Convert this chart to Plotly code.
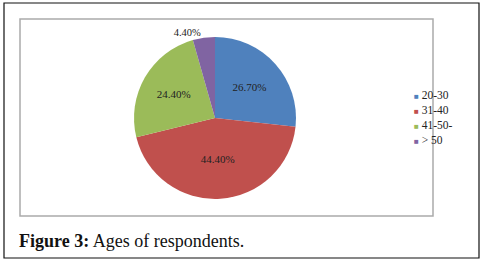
import plotly.graph_objects as go

categories = ["20-30", "31-40", "41-50-", "> 50"]
values = [26.7, 44.4, 24.4, 4.4]
labels_text = ["26.70%", "44.40%", "24.40%", "4.40%"]
colors = ["#4F81BD", "#C0504D", "#9BBB59", "#8064A2"]

W, H = 483, 262

def px(x):
    return x / W

def py(y):
    return 1 - y / H

fig = go.Figure()
fig.add_trace(go.Pie(
    labels=categories,
    values=values,
    text=labels_text,
    textinfo="text",
    textposition=["inside", "inside", "inside", "outside"],
    insidetextorientation="horizontal",
    sort=False,
    direction="clockwise",
    rotation=0,
    marker=dict(colors=colors, line=dict(width=0)),
    textfont=dict(family="Liberation Serif", size=11, color="#222"),
    outsidetextfont=dict(family="Liberation Serif", size=10.5, color="#222"),
    domain=dict(x=[px(134), px(296)], y=[py(199), py(37)]),
    hoverinfo="label+value",
    showlegend=False,
))

# legend: colored square glyph + category name, one line per category
legend_lines = [
    f'<span style="color:{col};font-size:8px">■</span> {cat}'
    for cat, col in zip(categories, colors)
]
fig.add_trace(go.Scatter(
    x=[None], y=[None], mode="markers",
    marker=dict(size=2, color="rgba(0,0,0,0)"),
    name="<br>".join(legend_lines),
    showlegend=True, hoverinfo="skip",
))

fig.update_layout(
    width=W, height=H,
    margin=dict(l=0, r=0, t=0, b=0),
    paper_bgcolor="white",
    plot_bgcolor="white",
    xaxis=dict(visible=False),
    yaxis=dict(visible=False),
    showlegend=True,
    legend=dict(
        x=px(374), y=py(81), xanchor="left", yanchor="top",
        font=dict(family="Liberation Serif", size=11.5, color="#222"),
        itemwidth=30, bgcolor="rgba(0,0,0,0)",
    ),
    shapes=[
        dict(type="rect", xref="paper", yref="paper",
             x0=px(4), x1=px(479), y0=py(258), y1=py(3),
             line=dict(color="#111", width=1.2)),
        dict(type="rect", xref="paper", yref="paper",
             x0=px(20), x1=px(433), y0=py(216), y1=py(19),
             line=dict(color="#aaaaaa", width=1.5)),
    ],
    annotations=[
        dict(xref="paper", yref="paper", x=px(17), y=py(241),
             xanchor="left", yanchor="middle", showarrow=False,
             text="<b>Figure 3:</b> Ages of respondents.",
             font=dict(family="Liberation Serif", size=18, color="#111")),
    ],
)

fig.write_html("out.html", config={"displayModeBar": False},
               post_script="document.body.style.margin='0';")
